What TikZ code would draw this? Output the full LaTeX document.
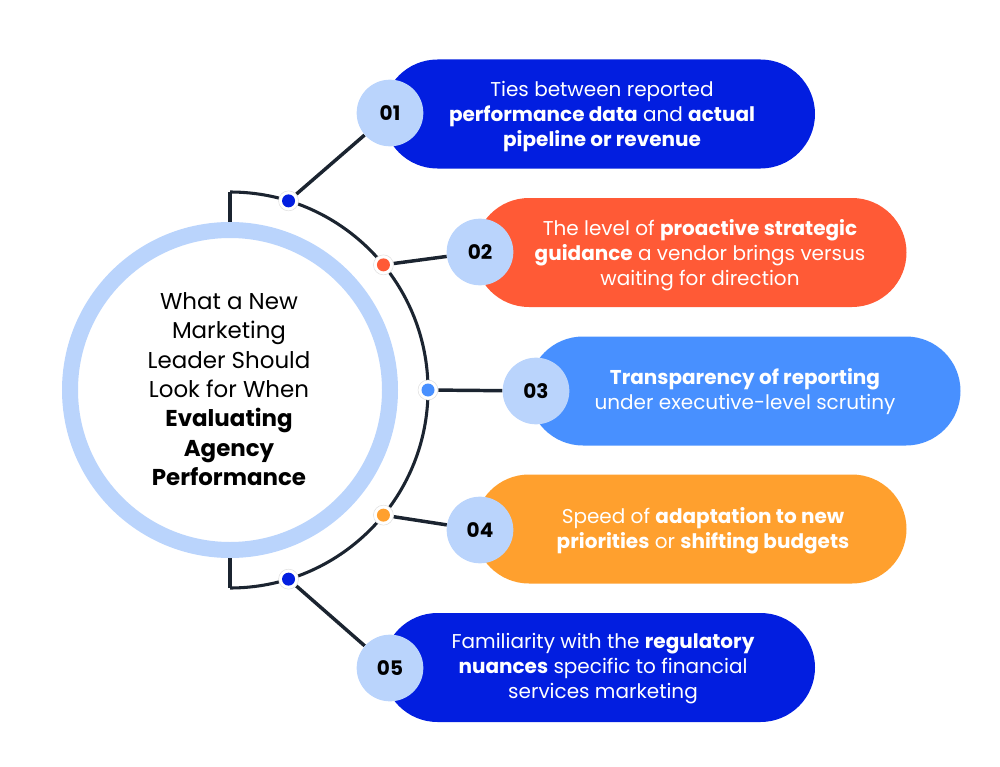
\documentclass[tikz,border=0pt]{standalone}
\usepackage{fontspec}
\setmainfont{Poppins}
\usetikzlibrary{shapes.misc,backgrounds}
\definecolor{navy}{RGB}{27,36,48}
\definecolor{dblue}{RGB}{2,30,224}
\definecolor{orng}{RGB}{255,90,54}
\definecolor{mblue}{RGB}{72,144,255}
\definecolor{yorng}{RGB}{255,160,46}
\definecolor{lblue}{RGB}{186,212,252}
\begin{document}
\begin{tikzpicture}[x=0.75pt,y=0.75pt,
  pill/.style={rounded rectangle, minimum width=324pt, minimum height=81.75pt, inner sep=0pt},
  num/.style={circle, fill=lblue, minimum size=50pt, inner sep=0pt, font=\bfseries\fontsize{15}{18}\selectfont},
  halo/.style={circle, fill=white, draw=black!12, line width=0.4pt, minimum size=15pt, inner sep=0pt},
  conn/.style={draw=navy, line width=2.6pt},
  txt/.style={text=white, align=center, font=\fontsize{15}{18.75}\selectfont}]
\useasboundingbox (0,0) rectangle (1000,-767);
% central ring
\node[circle, draw=lblue, line width=12pt, fill=white, minimum size=240pt, inner sep=0pt] (ring) at (230,-390) {};
\node[align=center, font=\fontsize{17.2}{22}\selectfont] (title) at (229,-389) {What a New\\Marketing\\Leader Should\\Look for When\\\textbf{Evaluating}\\\textbf{Agency}\\\textbf{Performance}};
\coordinate (top) at (230,-192);
\coordinate (bot) at (230,-588);
% dots
\node[halo] (d1) at ([shift={(72.8:198)}]230,-390) {};
\node[halo] (d2) at ([shift={(39.2:198)}]230,-390) {};
\node[halo] (d3) at ([shift={(0:198)}]230,-390) {};
\node[halo] (d4) at ([shift={(-39.2:198)}]230,-390) {};
\node[halo] (d5) at ([shift={(-72.8:198)}]230,-390) {};
\fill[dblue] (d1) circle (6.5);
\fill[orng] (d2) circle (6.5);
\fill[mblue] (d3) circle (6.5);
\fill[yorng] (d4) circle (6.5);
\fill[dblue] (d5) circle (6.5);
% pills
\node[pill, fill=dblue] (p1) at (599,-114) {};
\node[pill, fill=orng] (p2) at (690.5,-252.5) {};
\node[pill, fill=mblue] (p3) at (744.5,-391) {};
\node[pill, fill=yorng] (p4) at (690.5,-529) {};
\node[pill, fill=dblue] (p5) at (599,-667.5) {};
% numbers
\node[num] (n1) at (390,-113) {01};
\node[num] (n2) at (480,-252) {02};
\node[num] (n3) at (536,-391) {03};
\node[num] (n4) at (480,-530) {04};
\node[num] (n5) at (390,-668) {05};
% texts
\node[txt] (t1) at (602,-117) {Ties between reported\\\textbf{performance data} and \textbf{actual}\\\textbf{pipeline or revenue}};
\node[txt] (t2) at (700,-255) {The level of \textbf{proactive strategic}\\\textbf{guidance} a vendor brings versus\\waiting for direction};
\node[txt] (t3) at (745,-392) {\textbf{Transparency of reporting}\\under executive-level scrutiny};
\node[txt] (t4) at (703,-531) {Speed of \textbf{adaptation to new}\\\textbf{priorities} or \textbf{shifting budgets}};
\node[txt] (t5) at (603,-669) {Familiarity with the \textbf{regulatory}\\\textbf{nuances} specific to financial\\services marketing};
\begin{scope}[on background layer]
  \draw[navy, line width=2.3pt] (top) arc[start angle=90, end angle=-90, radius=198];
  \draw[navy, line width=2.3pt] (top) -- (ring.north);
  \draw[navy, line width=2.3pt] (bot) -- (ring.south);
  \draw[conn] (d1) -- (n1);
  \draw[conn] (d2) -- (n2);
  \draw[conn] (d3) -- (n3);
  \draw[conn] (d4) -- (n4);
  \draw[conn] (d5) -- (n5);
\end{scope}
\end{tikzpicture}
\end{document}
